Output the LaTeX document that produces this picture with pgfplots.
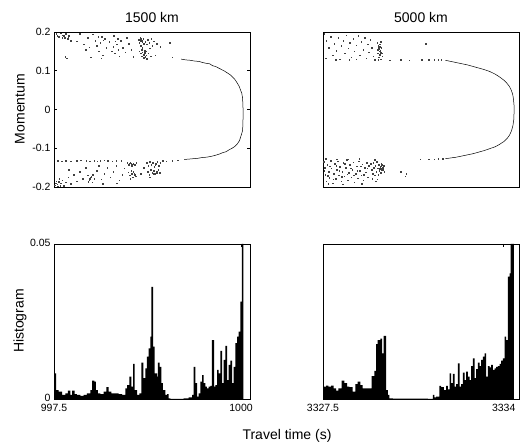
\documentclass[border=0pt]{standalone}
\usepackage{fontspec}
\setmainfont{Liberation Sans}
\usepackage{pgfplots}
\pgfplotsset{compat=1.18}

\pgfplotsset{
  panel/.style={
    scale only axis, width=196pt, height=155pt,
    anchor=north west,
    axis line style={line width=0.7pt, black},
    tick align=inside, major tick length=3pt,
    tick style={black, line width=0.5pt},
    tick label style={font=\fontsize{10.5}{12}\selectfont},
    xticklabel style={yshift=-1.5pt},
    scaled ticks=false,
    axis on top,
  },
  specks/.style={only marks, mark=square*, mark size=0.28pt, black!75, mark options={draw=none}},
  ray/.style={black, line width=0.5pt, mark=none},
  hist/.style={const plot, fill=black, draw=none, mark=none},
}

\begin{document}
\begin{tikzpicture}
\useasboundingbox (0,0) rectangle (523pt,-446pt);

% ---------------- 1500 km: phase-space scatter ----------------
\begin{axis}[panel, at={(54pt,-32pt)},
  xmin=997.5, xmax=1000.12, ymin=-0.2, ymax=0.2,
  xtick=\empty, ytick={-0.2,-0.1,0,0.1,0.2},
  yticklabels={-0.2,-0.1,0,0.1,0.2}]
\addplot[specks] coordinates {
(997.53,0.196)(997.56,0.188)(997.62,0.192)(997.64,0.185)(997.66,0.195)(997.68,0.183)
(997.70,0.190)(997.72,0.178)(997.67,0.132)(997.65,0.136)(997.80,0.176)(997.84,0.196)
(997.90,0.168)(997.92,0.155)(997.95,0.185)(997.97,0.161)(997.99,0.135)(998.02,0.194)
(998.05,0.178)(998.07,0.165)(998.09,0.188)(998.10,0.150)(998.12,0.172)(998.15,0.140)
(998.13,0.132)(998.18,0.183)(998.20,0.160)(998.24,0.175)(998.27,0.150)(998.30,0.190)
(998.31,0.145)(998.34,0.168)(998.37,0.138)(998.39,0.178)(998.42,0.160)(998.45,0.148)
(998.47,0.186)(998.50,0.170)(998.53,0.155)(998.56,0.136)
(997.54,0.191)(997.59,0.197)(997.61,0.186)(997.63,0.190)(997.69,0.187)(998.32,0.176)
(998.35,0.183)(998.29,0.162)(998.36,0.154)(998.14,0.188)(998.16,0.179)
(998.63,0.180)(998.64,0.172)(998.65,0.186)(998.66,0.165)(998.67,0.177)(998.68,0.160)
(998.69,0.183)(998.70,0.170)(998.71,0.152)(998.72,0.175)(998.66,0.145)(998.67,0.138)
(998.68,0.148)(998.69,0.133)(998.70,0.142)(998.72,0.136)(998.73,0.150)(998.74,0.168)
(998.75,0.180)(998.76,0.145)(998.77,0.173)(998.78,0.158)(998.79,0.137)(998.81,0.165)
(998.83,0.176)(998.85,0.140)(998.87,0.170)(998.64,0.150)(998.74,0.131)(998.80,0.182)
(998.65,0.178)(998.66,0.183)(998.68,0.174)(998.69,0.141)(998.71,0.146)(998.67,0.155)
(998.73,0.140)(998.70,0.134)
(998.92,0.162)(999.05,0.172)(999.08,0.135)
(997.55,-0.132)(997.60,-0.133)(997.66,-0.132)(997.72,-0.133)(997.80,-0.132)(997.86,-0.131)
(997.93,-0.132)(997.98,-0.133)(998.04,-0.132)(998.08,-0.133)(998.12,-0.132)(998.17,-0.131)
(998.22,-0.132)(998.28,-0.133)(998.33,-0.132)(998.40,-0.132)(998.95,-0.132)(999.00,-0.133)
(999.08,-0.132)(999.15,-0.131)
(997.51,-0.195)(997.53,-0.185)(997.55,-0.198)(997.57,-0.178)(997.59,-0.190)(997.61,-0.182)
(997.63,-0.196)(997.66,-0.188)(997.69,-0.175)(997.72,-0.192)(997.76,-0.168)(997.80,-0.185)
(997.84,-0.160)(997.88,-0.178)(997.92,-0.150)(997.95,-0.170)(997.97,-0.182)(997.99,-0.175)
(998.01,-0.188)(998.02,-0.168)(998.04,-0.178)(998.07,-0.158)(998.10,-0.145)(998.13,-0.180)
(998.17,-0.165)(998.21,-0.150)(998.25,-0.175)(998.29,-0.160)(998.33,-0.145)(998.37,-0.182)
(998.41,-0.168)(998.44,-0.152)(998.34,-0.190)(998.15,-0.192)(997.70,-0.155)
(997.52,-0.190)(997.54,-0.193)(997.56,-0.187)(997.58,-0.196)(997.98,-0.179)(998.00,-0.172)
(997.96,-0.186)
(998.48,-0.138)(998.50,-0.142)(998.52,-0.136)(998.54,-0.145)(998.56,-0.139)(998.58,-0.143)
(998.60,-0.137)(998.53,-0.140)(998.49,-0.162)(998.51,-0.170)(998.53,-0.158)(998.55,-0.175)
(998.57,-0.165)(998.59,-0.172)(998.52,-0.178)(998.56,-0.160)(998.51,-0.139)(998.55,-0.141)
(998.54,-0.166)(998.58,-0.168)
(998.74,-0.138)(998.76,-0.145)(998.78,-0.135)(998.80,-0.142)(998.82,-0.137)(998.84,-0.148)
(998.86,-0.140)(998.88,-0.135)(998.90,-0.145)(998.92,-0.138)(998.75,-0.160)(998.77,-0.168)
(998.79,-0.155)(998.81,-0.163)(998.83,-0.158)(998.85,-0.166)(998.87,-0.160)(998.89,-0.155)
(998.91,-0.163)(998.78,-0.175)(998.70,-0.150)(998.66,-0.165)(998.81,-0.139)(998.85,-0.143)
(998.83,-0.165)(998.87,-0.164)
};
\addplot[ray] coordinates {
(999.20,0.130)(999.26,0.128)(999.32,0.127)(999.38,0.125)(999.44,0.124)(999.49,0.121)
(999.54,0.119)(999.58,0.118)(999.62,0.113)(999.66,0.111)(999.70,0.107)(999.74,0.103)
(999.78,0.099)(999.82,0.094)(999.86,0.089)(999.89,0.083)(999.92,0.077)(999.95,0.068)
(999.975,0.060)(999.99,0.052)(1000.01,0.042)(1000.02,0.030)(1000.025,0.015)(1000.027,0.0)
(1000.027,-0.02)(1000.025,-0.04)(1000.02,-0.055)(1000.00,-0.068)(999.98,-0.080)
(999.95,-0.089)(999.92,-0.095)(999.88,-0.100)(999.84,-0.104)(999.80,-0.109)(999.76,-0.111)
(999.71,-0.115)(999.66,-0.118)(999.60,-0.121)(999.54,-0.123)(999.48,-0.124)(999.42,-0.126)
(999.36,-0.127)(999.30,-0.128)(999.24,-0.129)
};
\end{axis}

% ---------------- 5000 km: phase-space scatter ----------------
\begin{axis}[panel, at={(323pt,-32pt)},
  xmin=3327.5, xmax=3334.55, ymin=-0.2, ymax=0.2,
  xtick=\empty, ytick=\empty]
\addplot[specks] coordinates {
(3327.55,0.195)(3327.62,0.178)(3327.70,0.160)(3327.78,0.188)(3327.85,0.140)(3327.90,0.170)
(3327.98,0.152)(3328.05,0.185)(3328.10,0.130)(3328.15,0.165)(3328.22,0.178)(3328.28,0.145)
(3328.33,0.192)(3328.40,0.158)(3328.46,0.172)(3328.52,0.135)(3328.58,0.183)(3328.63,0.150)
(3328.70,0.166)(3328.76,0.190)(3328.82,0.140)(3328.88,0.175)(3328.94,0.155)(3329.00,0.185)
(3329.05,0.132)(3329.10,0.168)(3329.15,0.148)(3329.20,0.180)(3329.25,0.160)(3329.30,0.138)
(3327.60,0.132)(3327.95,0.128)(3328.45,0.128)(3328.70,0.130)(3329.35,0.128)
(3329.45,0.172)(3329.48,0.165)(3329.50,0.158)(3329.52,0.150)(3329.47,0.145)(3329.55,0.140)
(3329.50,0.135)(3329.58,0.130)(3329.53,0.168)(3329.60,0.160)(3329.56,0.152)(3329.62,0.145)
(3329.49,0.128)(3329.57,0.175)(3329.63,0.137)(3329.46,0.155)(3329.54,0.162)(3329.59,0.148)
(3329.51,0.161)(3329.52,0.156)(3329.55,0.147)(3329.53,0.142)
(3329.90,0.127)(3330.30,0.128)(3330.60,0.127)(3331.20,0.170)(3331.05,0.128)(3331.30,0.128)
(3331.50,0.128)(3331.65,0.129)(3331.75,0.129)
(3327.53,-0.135)(3327.56,-0.150)(3327.58,-0.168)(3327.62,-0.185)(3327.65,-0.142)(3327.70,-0.160)
(3327.73,-0.176)(3327.77,-0.132)(3327.80,-0.152)(3327.84,-0.190)(3327.88,-0.165)(3327.92,-0.140)
(3327.95,-0.178)(3327.99,-0.155)(3328.03,-0.133)(3328.07,-0.170)(3328.11,-0.147)(3328.15,-0.185)
(3328.19,-0.160)(3328.23,-0.138)(3328.27,-0.172)(3328.31,-0.150)(3328.35,-0.130)(3328.39,-0.182)
(3328.43,-0.163)(3328.47,-0.143)(3328.51,-0.175)(3328.55,-0.155)(3328.59,-0.136)(3328.63,-0.188)
(3328.67,-0.166)(3328.71,-0.146)(3328.75,-0.177)(3328.79,-0.133)(3328.83,-0.158)(3328.87,-0.170)
(3328.91,-0.141)(3328.95,-0.183)(3328.99,-0.150)(3329.03,-0.162)(3329.07,-0.137)(3329.11,-0.175)
(3329.15,-0.145)(3327.60,-0.127)(3328.00,-0.128)(3328.40,-0.128)(3328.80,-0.127)(3327.68,-0.192)
(3328.20,-0.193)(3328.90,-0.192)
(3327.54,-0.158)(3327.66,-0.171)(3327.75,-0.146)(3327.86,-0.180)(3327.97,-0.145)(3328.09,-0.158)
(3328.17,-0.173)(3328.29,-0.140)(3328.37,-0.167)(3328.49,-0.152)(3328.61,-0.170)(3328.73,-0.158)
(3328.85,-0.146)(3328.97,-0.168)(3329.09,-0.152)
(3329.22,-0.140)(3329.25,-0.155)(3329.28,-0.165)(3329.30,-0.138)(3329.33,-0.150)(3329.36,-0.170)
(3329.38,-0.145)(3329.41,-0.160)(3329.44,-0.135)(3329.46,-0.152)(3329.48,-0.168)(3329.50,-0.143)
(3329.52,-0.158)(3329.55,-0.148)(3329.57,-0.163)(3329.60,-0.140)(3329.62,-0.155)(3329.65,-0.150)
(3329.68,-0.145)(3329.70,-0.160)(3329.53,-0.153)(3329.58,-0.151)(3329.63,-0.149)(3329.45,-0.180)
(3329.40,-0.185)(3329.35,-0.130)(3329.27,-0.178)(3329.59,-0.146)(3329.61,-0.152)(3329.64,-0.156)
(3329.66,-0.147)(3329.62,-0.143)
(3330.30,-0.160)(3330.45,-0.172)(3330.50,-0.165)(3331.00,-0.128)(3331.30,-0.128)(3331.50,-0.128)
(3331.65,-0.127)(3331.80,-0.127)
};
\addplot[ray] coordinates {
(3331.90,0.127)(3332.10,0.124)(3332.30,0.121)(3332.50,0.118)(3332.70,0.115)(3332.90,0.111)
(3333.10,0.107)(3333.30,0.103)(3333.50,0.098)(3333.70,0.091)(3333.85,0.084)(3334.00,0.076)
(3334.10,0.069)(3334.20,0.060)(3334.27,0.050)(3334.32,0.040)(3334.35,0.028)(3334.37,0.012)
(3334.375,0.0)(3334.37,-0.012)(3334.36,-0.028)(3334.33,-0.042)(3334.28,-0.055)(3334.21,-0.066)
(3334.12,-0.075)(3334.00,-0.083)(3333.85,-0.090)(3333.70,-0.096)(3333.50,-0.101)(3333.30,-0.106)
(3333.10,-0.110)(3332.90,-0.114)(3332.70,-0.117)(3332.50,-0.120)(3332.30,-0.123)(3332.10,-0.125)
(3331.90,-0.127)
};
\end{axis}

% ---------------- 1500 km: travel-time histogram ----------------
\begin{axis}[panel, at={(54pt,-244pt)},
  xmin=997.5, xmax=1000.12, ymin=0, ymax=0.05,
  xtick={997.5,1000}, xticklabels={997.5,1000},
  ytick={0,0.05}, yticklabels={0,0.05},
  yticklabel style={yshift=1pt}]
\addplot[hist] coordinates {
(997.500,0.0083)(997.527,0.0029)(997.562,0.0024)(997.607,0.0013)(997.652,0.0018)
(997.687,0.0027)(997.718,0.0013)(997.741,0.0027)(997.776,0.0016)(997.807,0.0013)
(997.852,0.0010)(997.897,0.0013)(997.941,0.0018)(997.986,0.0029)(998.008,0.0059)
(998.039,0.0056)(998.061,0.0029)(998.088,0.0018)(998.119,0.0016)(998.164,0.0024)
(998.200,0.0038)(998.231,0.0024)(998.266,0.0018)(998.320,0.0018)(998.365,0.0016)
(998.409,0.0013)(998.454,0.0034)(998.476,0.0045)(998.507,0.0072)(998.534,0.0040)
(998.556,0.0113)(998.578,0.0029)(998.610,0.0013)(998.641,0.0018)(998.668,0.0117)
(998.694,0.0067)(998.721,0.0099)(998.743,0.0137)(998.766,0.0163)(998.788,0.0201)
(998.801,0.0362)(998.824,0.0169)(998.846,0.0083)(998.877,0.0072)(998.890,0.0117)
(998.913,0.0104)(998.935,0.0051)(998.957,0.0029)(998.988,0.0013)(999.011,0.0016)
(999.033,0.0002)(999.055,0.0000)(999.234,0.0002)(999.300,0.0005)(999.345,0.0013)
(999.367,0.0104)(999.389,0.0051)(999.412,0.0008)(999.434,0.0018)(999.456,0.0056)
(999.479,0.0077)(999.501,0.0051)(999.523,0.0040)(999.545,0.0034)(999.568,0.0040)
(999.590,0.0042)(999.612,0.0190)(999.639,0.0040)(999.657,0.0045)(999.679,0.0094)
(999.701,0.0083)(999.724,0.0155)(999.746,0.0051)(999.768,0.0126)(999.791,0.0171)
(999.813,0.0061)(999.835,0.0110)(999.857,0.0124)(999.880,0.0051)(999.902,0.0104)
(999.924,0.0180)(999.947,0.0201)(999.969,0.0217)(999.991,0.0314)(1000.013,0.0500)
(1000.031,0)
} \closedcycle;
\end{axis}

% ---------------- 5000 km: travel-time histogram ----------------
\begin{axis}[panel, at={(323pt,-244pt)},
  xmin=3327.5, xmax=3334.55, ymin=0, ymax=0.05,
  xtick={3327.5,3334}, xticklabels={3327.5,3334},
  ytick=\empty]
\addplot[hist] coordinates {
(3327.500,0.0040)(3327.608,0.0043)(3327.692,0.0040)(3327.788,0.0043)(3327.884,0.0034)
(3327.968,0.0027)(3328.052,0.0034)(3328.172,0.0059)(3328.268,0.0051)(3328.364,0.0040)
(3328.448,0.0038)(3328.568,0.0024)(3328.664,0.0048)(3328.748,0.0056)(3328.845,0.0045)
(3328.929,0.0034)(3329.109,0.0034)(3329.253,0.0074)(3329.349,0.0091)(3329.409,0.0177)
(3329.469,0.0190)(3329.565,0.0195)(3329.625,0.0147)(3329.685,0.0204)(3329.769,0.0029)
(3329.829,0.0013)(3329.889,0.0002)(3330.009,0.0001)(3331.270,0.0000)(3331.450,0.0013)
(3331.510,0.0005)(3331.570,0.0008)(3331.690,0.0042)(3331.750,0.0038)(3331.846,0.0029)
(3331.930,0.0042)(3331.990,0.0031)(3332.050,0.0083)(3332.110,0.0051)(3332.170,0.0081)
(3332.230,0.0040)(3332.290,0.0048)(3332.350,0.0115)(3332.410,0.0040)(3332.470,0.0048)
(3332.530,0.0085)(3332.590,0.0061)(3332.650,0.0088)(3332.710,0.0072)(3332.770,0.0061)
(3332.830,0.0106)(3332.890,0.0131)(3332.950,0.0067)(3333.010,0.0096)(3333.070,0.0117)
(3333.130,0.0106)(3333.190,0.0126)(3333.250,0.0137)(3333.310,0.0147)(3333.370,0.0072)
(3333.430,0.0106)(3333.490,0.0102)(3333.550,0.0110)(3333.610,0.0094)(3333.670,0.0099)
(3333.730,0.0104)(3333.790,0.0106)(3333.851,0.0113)(3333.911,0.0124)(3333.971,0.0131)
(3334.031,0.0201)(3334.091,0.0190)(3334.151,0.0395)(3334.211,0.0405)(3334.247,0.0500)
(3334.367,0)
} \closedcycle;
\end{axis}

% ---------------- titles and labels ----------------
\node[font=\fontsize{14}{16}\selectfont] at (152pt,-18pt) {1500 km};
\node[font=\fontsize{14}{16}\selectfont] at (421pt,-18pt) {5000 km};
\node[font=\fontsize{14}{16}\selectfont, rotate=90] at (20pt,-109pt) {Momentum};
\node[font=\fontsize{14}{16}\selectfont, rotate=90] at (20pt,-321pt) {Histogram};
\node[font=\fontsize{14}{16}\selectfont] at (287pt,-436pt) {Travel time (s)};
\end{tikzpicture}
\end{document}
